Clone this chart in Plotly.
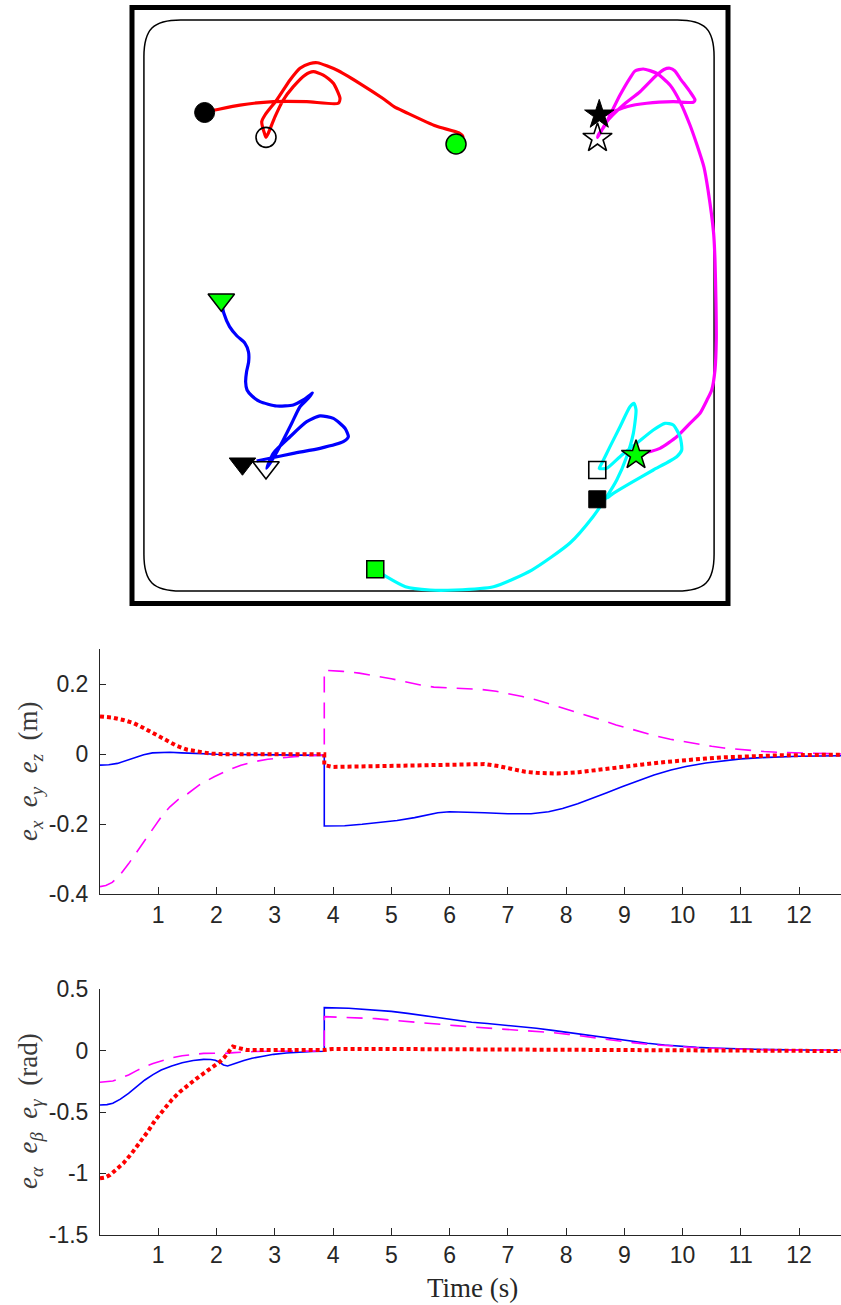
import plotly.graph_objects as go

# ---------------------------------------------------------------
# Arena view: planar paths of the four vehicles (metres).
# The arena wall is the square [-3, 3] x [-3, 3].
# ---------------------------------------------------------------
red_x = [0.262, 0.332, 0.292, 0.060, -0.247, -0.362, -0.477, -0.709, -0.939, -1.133,
         -1.208, -1.309, -1.409, -1.543, -1.661, -1.694, -1.661, -1.651, -1.628, -1.560,
         -1.477, -1.376, -1.258, -1.175, -1.074, -0.973, -0.906, -0.923, -1.241, -1.578,
         -1.913, -2.164, -2.275]
red_y = [1.626, 1.696, 1.737, 1.806, 1.946, 2.001, 2.086, 2.237, 2.371, 2.444,
         2.436, 2.388, 2.270, 2.069, 1.918, 1.850, 1.716, 1.693, 1.734, 1.901,
         2.069, 2.203, 2.320, 2.354, 2.320, 2.237, 2.086, 2.036, 2.052, 2.052,
         2.018, 1.968, 1.945]

mag_x = [2.064, 2.147, 2.315, 2.484, 2.617, 2.718, 2.789, 2.836, 2.869, 2.882,
         2.879, 2.869, 2.855, 2.799, 2.758, 2.688, 2.617, 2.517, 2.416, 2.282,
         2.147, 2.064, 2.013, 1.913, 1.829, 1.762, 1.694, 1.688, 1.779, 1.946,
         2.114, 2.282, 2.356, 2.416, 2.466, 2.517, 2.617, 2.668, 2.651, 2.449,
         2.182, 1.980, 1.845, 1.745, 1.711]
mag_y = [-1.495, -1.488, -1.438, -1.321, -1.186, -1.085, -0.951, -0.851, -0.649, -0.347,
         0.025, 0.458, 0.730, 1.163, 1.394, 1.616, 1.817, 2.052, 2.220, 2.338,
         2.381, 2.361, 2.290, 2.119, 1.951, 1.816, 1.716, 1.691, 1.850, 2.018,
         2.152, 2.320, 2.376, 2.388, 2.361, 2.287, 2.152, 2.069, 2.046, 2.052,
         2.036, 2.001, 1.951, 1.918, 1.935]

cyan_x = [-0.551, -0.439, -0.247, 0.000, 0.252, 0.640, 1.025, 1.409, 1.641, 1.777,
          1.880, 1.980, 2.047, 2.074, 2.054, 2.013, 1.913, 1.812, 1.729, 1.704,
          1.779, 1.913, 2.081, 2.248, 2.366, 2.449, 2.517, 2.534, 2.484, 2.248,
          2.013, 1.845, 1.779]
cyan_y = [-2.656, -2.730, -2.831, -2.864, -2.864, -2.831, -2.663, -2.391, -2.126, -1.928,
          -1.757, -1.522, -1.287, -1.052, -0.985, -1.019, -1.220, -1.421, -1.589, -1.639,
          -1.639, -1.522, -1.387, -1.253, -1.186, -1.203, -1.321, -1.455, -1.522, -1.656,
          -1.790, -1.891, -1.941]

blue_x = [-2.101, -2.076, -2.018, -1.943, -1.864, -1.827, -1.826, -1.847, -1.856, -1.842,
          -1.792, -1.711, -1.543, -1.376, -1.276, -1.208, -1.183, -1.225, -1.309, -1.392,
          -1.477, -1.578, -1.644, -1.578, -1.409, -1.241, -1.107, -0.973, -0.856, -0.822,
          -0.873, -1.107, -1.376, -1.611, -1.745]
blue_y = [0.045, -0.076, -0.213, -0.307, -0.378, -0.468, -0.569, -0.669, -0.770, -0.851,
          -0.911, -0.968, -1.012, -1.002, -0.951, -0.901, -0.881, -0.934, -1.019, -1.186,
          -1.354, -1.538, -1.639, -1.488, -1.321, -1.170, -1.112, -1.136, -1.236, -1.321,
          -1.371, -1.438, -1.488, -1.538, -1.565]

# start (green), intermediate (open) and final (black) positions
start_pts = {"circle": (0.262, 1.626), "star": (2.074, -1.507),
             "square": (-0.551, -2.656), "triangle-down": (-2.101, 0.058)}
mid_pts = {"circle-open": (-1.651, 1.693), "star-open": (1.686, 1.684),
           "square-open": (1.684, -1.656), "triangle-down-open": (-1.651, -1.631)}
end_pts = {"circle": (-2.269, 1.943), "star": (1.704, 1.920),
           "square": (1.684, -1.951), "triangle-down": (-1.888, -1.593)}
marker_size = {"circle": 20, "star": 22, "square": 17, "triangle-down": 23}

# ---------------------------------------------------------------
# Position errors (m) versus time (s)
# ---------------------------------------------------------------
ex_t = [0, 0.15, 0.3, 0.45, 0.6, 0.75, 0.9, 1.05, 1.2, 1.4, 1.6, 1.8, 2.0, 2.6, 3.2, 3.85,
        3.85, 4.2, 4.5, 4.8, 5.1, 5.4, 5.64, 5.8, 6.0, 6.3, 6.6, 7.0, 7.4, 7.7, 7.94, 8.2,
        8.4, 8.7, 8.96, 9.25, 9.51, 9.8, 10.06, 10.4, 10.7, 11.0, 11.35, 11.7, 12.0, 12.72]
ex_v = [-0.031, -0.030, -0.026, -0.018, -0.009, -0.001, 0.004, 0.006, 0.006, 0.004, 0.002,
        0.001, 0.0, -0.001, -0.002, -0.003,
        -0.205, -0.204, -0.200, -0.195, -0.189, -0.181, -0.173, -0.167, -0.164, -0.165,
        -0.167, -0.170, -0.170, -0.164, -0.155, -0.141, -0.129, -0.110, -0.093, -0.075,
        -0.059, -0.045, -0.035, -0.025, -0.018, -0.013, -0.0096, -0.007, -0.0057, -0.004]

ey_t = [0, 0.1, 0.21, 0.35, 0.49, 0.63, 0.77, 0.91, 1.05, 1.2, 1.35, 1.51, 1.7, 1.96, 2.2,
        2.42, 2.65, 2.88, 3.1, 3.34, 3.6, 3.85,
        3.85, 4.17, 4.45, 4.72, 5.0, 5.28, 5.5, 5.73, 5.95, 6.19, 6.56, 6.8, 7.02, 7.25,
        7.48, 7.7, 7.94, 8.17, 8.40, 8.63, 8.86, 9.09, 9.32, 9.55, 9.79, 10.02, 10.25,
        10.5, 10.71, 10.95, 11.17, 11.4, 11.62, 12.08, 12.72]
ey_v = [-0.378, -0.375, -0.366, -0.343, -0.313, -0.280, -0.246, -0.212, -0.179, -0.150,
        -0.128, -0.112, -0.088, -0.064, -0.045, -0.031, -0.021, -0.014, -0.010, -0.0067,
        -0.004, -0.002,
        0.240, 0.237, 0.232, 0.225, 0.216, 0.206, 0.198, 0.192, 0.190, 0.189, 0.185,
        0.180, 0.173, 0.165, 0.156, 0.145, 0.132, 0.121, 0.110, 0.097, 0.084, 0.073,
        0.062, 0.052, 0.043, 0.036, 0.029, 0.023, 0.018, 0.014, 0.0105, 0.008, 0.0057,
        0.0029, 0.001]

ez_t = [0, 0.21, 0.4, 0.58, 0.75, 0.95, 1.15, 1.32, 1.5, 1.69, 1.9, 2.15, 3.0, 3.85,
        3.85, 3.99, 4.72, 5.64, 6.1, 6.38, 6.6, 6.85, 7.12, 7.3, 7.49, 7.85, 8.22, 8.5,
        8.77, 9.05, 9.32, 9.7, 10.06, 10.4, 10.70, 11.2, 11.63, 12.72]
ez_v = [0.108, 0.105, 0.098, 0.089, 0.075, 0.056, 0.037, 0.024, 0.013, 0.0067, 0.002,
        0.0, 0.0, 0.0,
        -0.031, -0.036, -0.034, -0.031, -0.028, -0.026, -0.028, -0.034, -0.045, -0.050,
        -0.053, -0.055, -0.051, -0.045, -0.039, -0.034, -0.029, -0.022, -0.016, -0.012,
        -0.0086, -0.005, -0.003, -0.001]

# ---------------------------------------------------------------
# Attitude errors (rad) versus time (s)
# ---------------------------------------------------------------
ea_t = [0, 0.12, 0.22, 0.35, 0.49, 0.63, 0.77, 0.91, 1.05, 1.23, 1.41, 1.6, 1.78, 1.9,
        1.98, 2.05, 2.12, 2.19, 2.26, 2.33, 2.47, 2.61, 2.8, 2.98, 3.2, 3.44, 3.65, 3.85,
        3.85, 4.27, 4.73, 5.0, 5.28, 5.55, 5.83, 6.1, 6.38, 6.65, 6.93, 7.2, 7.49, 7.77,
        8.04, 8.3, 8.59, 8.86, 9.14, 9.4, 9.69, 9.95, 10.24, 10.5, 10.80, 11.15, 11.53,
        12.1, 12.72]
ea_v = [-0.443, -0.440, -0.429, -0.395, -0.348, -0.293, -0.239, -0.195, -0.158, -0.125,
        -0.098, -0.080, -0.071, -0.072, -0.078, -0.095, -0.117, -0.125, -0.116, -0.103,
        -0.081, -0.0625, -0.045, -0.030, -0.019, -0.011, -0.007, -0.005,
        0.351, 0.345, 0.332, 0.320, 0.304, 0.285, 0.264, 0.246, 0.231, 0.221, 0.209,
        0.196, 0.182, 0.165, 0.147, 0.128, 0.109, 0.092, 0.076, 0.060, 0.046, 0.035,
        0.027, 0.021, 0.016, 0.011, 0.008, 0.005, 0.003]

eb_t = [0, 0.12, 0.22, 0.35, 0.49, 0.63, 0.77, 0.91, 1.05, 1.23, 1.41, 1.6, 1.78, 1.96,
        2.15, 2.3, 2.43, 2.65, 2.89, 3.85,
        3.85, 4.27, 4.73, 5.0, 5.28, 5.55, 5.83, 6.1, 6.38, 6.65, 6.93, 7.2, 7.49, 7.77,
        8.04, 8.3, 8.59, 8.86, 9.14, 9.4, 9.69, 9.95, 10.24, 10.5, 10.80, 11.15, 11.53,
        12.1, 12.72]
eb_v = [-0.258, -0.255, -0.247, -0.225, -0.198, -0.163, -0.130, -0.104, -0.082, -0.059,
        -0.041, -0.030, -0.022, -0.021, -0.022, -0.016, -0.011, -0.007, -0.005, -0.003,
        0.277, 0.272, 0.261, 0.249, 0.236, 0.225, 0.215, 0.204, 0.193, 0.185, 0.177,
        0.169, 0.160, 0.147, 0.133, 0.116, 0.098, 0.081, 0.065, 0.052, 0.041, 0.032,
        0.024, 0.019, 0.014, 0.009, 0.005, 0.004, 0.003]

eg_t = [0, 0.08, 0.17, 0.28, 0.40, 0.54, 0.68, 0.82, 0.95, 1.09, 1.23, 1.37, 1.51, 1.65,
        1.78, 1.92, 2.06, 2.13, 2.20, 2.24, 2.28, 2.33, 2.38, 2.45, 2.52, 3.85, 3.99,
        4.72, 6.56, 8.40, 10.24, 12.72]
eg_v = [-1.041, -1.035, -1.014, -0.972, -0.918, -0.840, -0.755, -0.660, -0.565, -0.480,
        -0.402, -0.336, -0.280, -0.230, -0.185, -0.140, -0.090, -0.058, -0.022, 0.010,
        0.033, 0.028, 0.019, 0.010, 0.005, 0.005, 0.014, 0.014, 0.011, 0.005, 0.003,
        -0.003]

time_ticks = list(range(1, 13))
pos_ticks = [-0.4, -0.2, 0, 0.2]
pos_tick_text = ["-0.4", "-0.2", "0", "0.2"]
att_ticks = [-1.5, -1, -0.5, 0, 0.5]
att_tick_text = ["-1.5", "-1", "-0.5", "0", "0.5"]

W, H = 841, 1305
AX_COL = "#262626"

fig = go.Figure()

# ---- arena paths ----
for xs, ys, col in [(red_x, red_y, "#ff0000"), (mag_x, mag_y, "#ff00ff"),
                    (cyan_x, cyan_y, "#00ffff"), (blue_x, blue_y, "#0000ff")]:
    fig.add_trace(go.Scatter(x=xs, y=ys, mode="lines", xaxis="x3", yaxis="y3",
                             line=dict(color=col, width=3.2, shape="spline", smoothing=0.6),
                             showlegend=False, hoverinfo="skip"))

for sym, (px, py) in start_pts.items():
    fig.add_trace(go.Scatter(x=[px], y=[py], mode="markers", xaxis="x3", yaxis="y3",
                             marker=dict(symbol=sym, size=marker_size[sym], color="#00ff00",
                                         line=dict(color="black", width=1.5)),
                             showlegend=False, hoverinfo="skip"))
for sym, (px, py) in mid_pts.items():
    base = sym.replace("-open", "")
    fig.add_trace(go.Scatter(x=[px], y=[py], mode="markers", xaxis="x3", yaxis="y3",
                             marker=dict(symbol=sym, size=marker_size[base], color="black",
                                         line=dict(color="black", width=1.6)),
                             showlegend=False, hoverinfo="skip"))
for sym, (px, py) in end_pts.items():
    fig.add_trace(go.Scatter(x=[px], y=[py], mode="markers", xaxis="x3", yaxis="y3",
                             marker=dict(symbol=sym, size=marker_size[sym], color="black",
                                         line=dict(color="black", width=1)),
                             showlegend=False, hoverinfo="skip"))

SOLID = dict(color="#0000ff", width=1.6)
DASHED = dict(color="#ff00ff", width=1.6, dash="16px,10px")
DOTTED = dict(color="#ff0000", width=4, dash="4px,3px")

# ---- position errors ----
for ts, vs, ln in [(ex_t, ex_v, SOLID), (ey_t, ey_v, DASHED), (ez_t, ez_v, DOTTED)]:
    fig.add_trace(go.Scatter(x=ts, y=vs, mode="lines", xaxis="x", yaxis="y",
                             line=ln, showlegend=False))

# ---- attitude errors ----
for ts, vs, ln in [(ea_t, ea_v, SOLID), (eb_t, eb_v, DASHED), (eg_t, eg_v, DOTTED)]:
    fig.add_trace(go.Scatter(x=ts, y=vs, mode="lines", xaxis="x2", yaxis="y2",
                             line=ln, showlegend=False))

# ---- arena outline: heavy square wall and rounded inner boundary ----
XL, XR, YB, YT, R, K = -2.88, 2.86, -2.875, 2.875, 0.37, 0.75
inner_path = (
    f"M {XL + R},{YT} L {XR - R},{YT} "
    f"C {XR - R + K * R},{YT} {XR},{YT - R + K * R} {XR},{YT - R} "
    f"L {XR},{YB + R} "
    f"C {XR},{YB + R - K * R} {XR - R + K * R},{YB} {XR - R},{YB} "
    f"L {XL + R},{YB} "
    f"C {XL + R - K * R},{YB} {XL},{YB + R - K * R} {XL},{YB + R} "
    f"L {XL},{YT - R} "
    f"C {XL},{YT - R + K * R} {XL + R - K * R},{YT} {XL + R},{YT} Z"
)
shapes = [
    dict(type="rect", xref="x3", yref="y3", x0=-3, x1=3, y0=-3, y1=3,
         line=dict(color="black", width=5), layer="below"),
    dict(type="path", xref="x3", yref="y3", path=inner_path,
         line=dict(color="black", width=1.5), layer="below"),
]

tick_font = dict(family="Liberation Sans, Arial, sans-serif", size=23, color=AX_COL)


def time_axis(y_anchor):
    return dict(domain=[100 / W, 1.0], range=[0, 12.72], anchor=y_anchor,
                tickmode="array", tickvals=time_ticks, ticktext=[str(v) for v in time_ticks],
                ticks="inside", ticklen=7, tickcolor=AX_COL, tickwidth=1,
                showline=True, linecolor=AX_COL, linewidth=1, automargin=False,
                showgrid=False, zeroline=False, tickfont=tick_font, ticklabelstandoff=0)


def value_axis(domain, rng, vals, text, x_anchor):
    return dict(domain=domain, range=rng, anchor=x_anchor,
                tickmode="array", tickvals=vals, ticktext=text,
                ticks="inside", ticklen=6, tickcolor=AX_COL, tickwidth=1,
                showline=True, linecolor=AX_COL, linewidth=1, automargin=False,
                showgrid=False, zeroline=False, tickfont=tick_font, ticklabelstandoff=6)


label_font = dict(family="Liberation Serif, Times New Roman, serif", size=27, color="#3a3a3a")
sp = "\u2002"
annotations = [
    dict(text=(f"<i>e</i><sub><i>x</i></sub>{sp}<i>e</i><sub><i>y</i></sub>{sp}"
               f"<i>e</i><sub><i>z</i></sub>{sp}(m)"),
         xref="paper", yref="paper", x=30 / W, y=1 - 771 / H, textangle=-90,
         showarrow=False, font=label_font, xanchor="center", yanchor="middle"),
    dict(text=(f"<i>e</i><sub><i>α</i></sub>{sp}<i>e</i><sub><i>β</i></sub>{sp}"
               f"<i>e</i><sub><i>γ</i></sub>{sp}(rad)"),
         xref="paper", yref="paper", x=30 / W, y=1 - 1111 / H, textangle=-90,
         showarrow=False, font=label_font, xanchor="center", yanchor="middle"),
    dict(text="Time (s)", xref="paper", yref="paper", x=472 / W, y=1 - 1288 / H,
         showarrow=False, font=dict(family="Liberation Serif, Times New Roman, serif",
                                    size=27, color="#262626"),
         xanchor="center", yanchor="middle"),
]

PX_PER_M = 596 / 6.0
fig.update_layout(
    width=W, height=H, autosize=False, margin=dict(l=0, r=0, t=0, b=0, pad=0),
    paper_bgcolor="white", plot_bgcolor="rgba(0,0,0,0)",
    showlegend=False,
    xaxis=time_axis("y"),
    yaxis=value_axis([1 - 894.3 / H, 1 - 649.3 / H], [-0.4, 0.3], pos_ticks, pos_tick_text, "x"),
    xaxis2=time_axis("y2"),
    yaxis2=value_axis([1 - 1234.7 / H, 1 - 989.3 / H], [-1.5, 0.5], att_ticks, att_tick_text, "x2"),
    xaxis3=dict(domain=[112 / W, 748 / W], range=[-318 / PX_PER_M, 318 / PX_PER_M],
                anchor="y3", visible=False, fixedrange=True, automargin=False),
    yaxis3=dict(domain=[1 - 611 / H, 1.0], range=[-305.5 / PX_PER_M, 305.5 / PX_PER_M],
                anchor="x3", visible=False, fixedrange=True, automargin=False),
    shapes=shapes,
    annotations=annotations,
)

fig.write_html("out.html")
